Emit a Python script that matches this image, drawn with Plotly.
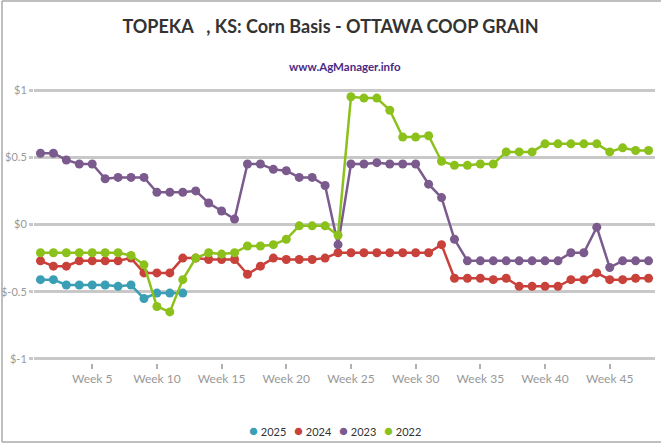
import plotly.graph_objects as go

# week categories and tick labels
weeks = [f"Week {i}" for i in range(1, 49)]
week_ticks = ["Week 5", "Week 10", "Week 15", "Week 20", "Week 25",
              "Week 30", "Week 35", "Week 40", "Week 45"]
basis_ticks = [-1, -0.5, 0, 0.5, 1]
basis_labels = ["$-1", "$-0.5", "$0", "$0.5", "$1"]

# basis values ($/bu)
basis_2025 = [-0.41, -0.41, -0.45, -0.45, -0.45, -0.45, -0.46, -0.45, -0.55, -0.51,
              -0.51, -0.51]
basis_2024 = [-0.27, -0.31, -0.31, -0.27, -0.27, -0.27, -0.27, -0.25, -0.36, -0.36,
              -0.36, -0.25, -0.25, -0.26, -0.26, -0.26, -0.37, -0.31, -0.25, -0.26,
              -0.26, -0.26, -0.25, -0.21, -0.21, -0.21, -0.21, -0.21, -0.21, -0.21,
              -0.21, -0.15, -0.40, -0.40, -0.40, -0.41, -0.40, -0.46, -0.46, -0.46,
              -0.46, -0.41, -0.41, -0.36, -0.41, -0.41, -0.40, -0.40]
basis_2023 = [0.53, 0.53, 0.48, 0.45, 0.45, 0.34, 0.35, 0.35, 0.35, 0.24,
              0.24, 0.24, 0.25, 0.16, 0.10, 0.04, 0.45, 0.45, 0.41, 0.40,
              0.35, 0.35, 0.29, -0.15, 0.45, 0.45, 0.46, 0.45, 0.45, 0.45,
              0.30, 0.20, -0.11, -0.27, -0.27, -0.27, -0.27, -0.27, -0.27, -0.27,
              -0.27, -0.21, -0.21, -0.02, -0.32, -0.27, -0.27, -0.27]
basis_2022 = [-0.21, -0.21, -0.21, -0.21, -0.21, -0.21, -0.21, -0.23, -0.30, -0.61,
              -0.65, -0.41, -0.25, -0.21, -0.22, -0.21, -0.16, -0.16, -0.15, -0.11,
              -0.01, -0.01, -0.01, -0.08, 0.95, 0.94, 0.94, 0.85, 0.65, 0.65,
              0.66, 0.47, 0.44, 0.44, 0.45, 0.45, 0.54, 0.54, 0.54, 0.60,
              0.60, 0.60, 0.60, 0.60, 0.54, 0.57, 0.55, 0.55]

series = [
    ("2025", basis_2025, "#3a9fb4"),
    ("2024", basis_2024, "#c9413b"),
    ("2023", basis_2023, "#7b5a8d"),
    ("2022", basis_2022, "#8cc11c"),
]

FONT = "Lato, Open Sans, sans-serif"
GRID = "#c8c8c8"

# plot area in pixels (used to place the extra text / frame)
L, R, T, B = 34, 6, 86, 80
PW, PH = 661 - L - R, 443 - T - B


def px_x(px):
    return (px - L) / PW


def px_y(py):
    return (443 - B - py) / PH


fig = go.Figure()
for name, vals, col in series:
    fig.add_trace(go.Scatter(
        x=weeks[:len(vals)], y=vals, name=name,
        mode="lines+markers",
        line=dict(color=col, width=2.5),
        marker=dict(color=col, size=9, symbol="circle"),
        showlegend=False,
    ))

fig.update_layout(
    width=661, height=443,
    margin=dict(l=L, r=R, t=T, b=B),
    paper_bgcolor="white", plot_bgcolor="white",
    font=dict(family=FONT, color="#999999", size=12),
    title=dict(text="<b>TOPEKA   , KS: Corn Basis - OTTAWA COOP GRAIN</b>",
               x=0.5, xanchor="center", y=1 - 27 / 443, yanchor="middle",
               font=dict(family=FONT, size=18, color="#333333")),
)

fig.add_annotation(text="<b>www.AgManager.info</b>", xref="paper", yref="paper",
                   x=0.5, y=px_y(67), xanchor="center", yanchor="middle",
                   showarrow=False, font=dict(family=FONT, size=11.5, color="#4b2a86"))

# legend row
legend_x = [247, 292, 337, 382]
for (name, vals, col), lx in zip(series, legend_x):
    fig.add_annotation(
        text=f"<span style='color:{col};font-size:15px'>●</span> {name}",
        xref="paper", yref="paper", x=px_x(lx), y=px_y(430),
        xanchor="left", yanchor="middle", showarrow=False,
        font=dict(family=FONT, size=11, color="#333333"))

fig.update_xaxes(
    type="category", categoryorder="array", categoryarray=weeks,
    range=[-0.5, len(weeks) - 0.5], autorange=False,
    tickmode="array", tickvals=week_ticks, ticktext=week_ticks,
    showgrid=False, zeroline=False, automargin=False,
    ticks="outside", ticklen=5, tickwidth=1.5, tickcolor="#b0b0b0",
    showline=False, tickfont=dict(size=12, color="#999999"),
)
fig.update_yaxes(
    range=[-1.03, 1.03], tickmode="array", tickvals=basis_ticks, ticktext=basis_labels,
    showgrid=True, gridcolor=GRID, gridwidth=2.5, zeroline=False, automargin=False,
    ticks="outside", ticklen=4, tickwidth=2.5, tickcolor=GRID,
    showline=False, tickfont=dict(size=11, color="#999999"),
)

# outer frame of the picture
frame = dict(type="line", xref="paper", yref="paper", line=dict(color="#aaaaaa", width=1.5))
fig.add_shape(x0=px_x(2), x1=px_x(2), y0=px_y(442), y1=px_y(1), **frame)
fig.add_shape(x0=px_x(2), x1=px_x(661), y0=px_y(1), y1=px_y(1), **frame)
fig.add_shape(x0=px_x(2), x1=px_x(661), y0=px_y(442), y1=px_y(442), **frame)

# the page's default body margin would push the figure 8px off the window
fig.write_html("out.html", config={"displayModeBar": False},
               post_script="document.body.style.margin='0';")
